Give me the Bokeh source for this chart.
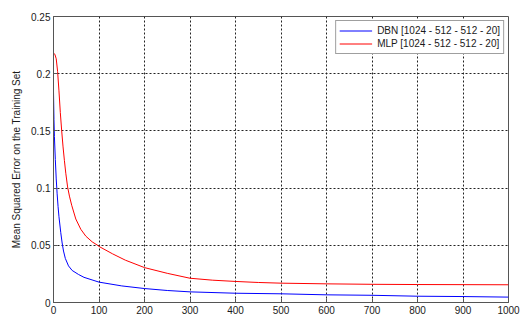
from bokeh.plotting import figure
from bokeh.models import Range1d, FixedTicker, Legend, LegendItem, Label
from bokeh.embed import file_html
from bokeh.resources import INLINE

# ---- data ----
mlp_epoch = [0, 3, 6, 9, 12, 15, 18, 21, 24, 27, 31, 35, 40, 49, 60, 71, 85, 97,
             100, 130, 158, 200, 250, 300, 350, 400, 450, 500, 600, 700, 800, 900, 1000]
mlp_mse = [0.218, 0.217, 0.213, 0.202, 0.185, 0.166, 0.150, 0.136, 0.124, 0.113,
           0.101, 0.093, 0.085, 0.073, 0.064, 0.058, 0.053, 0.050, 0.049, 0.0425,
           0.037, 0.0305, 0.0255, 0.0212, 0.0195, 0.0184, 0.0175, 0.0169, 0.0163,
           0.0159, 0.0157, 0.0156, 0.0155]

dbn_epoch = [0, 1, 2, 4, 6, 8, 10, 12, 16, 19, 22, 26, 33, 41, 55, 67, 100, 150,
             200, 250, 300, 400, 500, 600, 700, 800, 900, 1000]
dbn_mse = [0.184, 0.160, 0.145, 0.125, 0.108, 0.095, 0.084, 0.075, 0.061, 0.052,
           0.045, 0.0385, 0.032, 0.028, 0.0245, 0.022, 0.0178, 0.0145, 0.0122,
           0.0105, 0.0093, 0.0081, 0.0076, 0.0067, 0.0063, 0.0055, 0.0052, 0.0047]

x_ticks = [0, 100, 200, 300, 400, 500, 600, 700, 800, 900, 1000]
y_ticks = [0, 0.05, 0.1, 0.15, 0.2, 0.25]
y_tick_labels = ["0", "0.05", "0.1", "0.15", "0.2", "0.25"]

dbn_name = "DBN [1024 - 512 - 512 - 20]"
mlp_name = "MLP [1024 - 512 - 512 - 20]"
x_title = "epoch"
y_title = "Mean Squared Error on the Training Set"

FONT = "Liberation Sans"
TXT = "#1a1a1a"

p = figure(width=523, height=326, output_backend="svg", toolbar_location=None,
           x_range=Range1d(0, 1000), y_range=Range1d(0, 0.25),
           min_border_left=53, min_border_right=15, min_border_top=16,
           min_border_bottom=24)

p.background_fill_color = "white"
p.border_fill_color = "white"
p.outline_line_color = "#555555"
p.outline_line_width = 1

r_dbn = p.line(dbn_epoch, dbn_mse, line_color="#0000ff", line_width=1)
r_mlp = p.line(mlp_epoch, mlp_mse, line_color="#ff0000", line_width=1)

for ax in (p.xaxis[0], p.yaxis[0]):
    ax.axis_line_color = "#555555"
    ax.major_tick_in = 4
    ax.major_tick_out = 0
    ax.major_tick_line_color = "#555555"
    ax.minor_tick_line_color = None
    ax.major_label_text_font = FONT
    ax.major_label_text_font_size = "10px"
    ax.major_label_text_color = TXT
    ax.axis_label_text_font = FONT
    ax.axis_label_text_font_size = "10px"
    ax.axis_label_text_font_style = "normal"
    ax.axis_label_text_color = TXT

p.xaxis.ticker = FixedTicker(ticks=x_ticks)
p.xaxis.major_label_standoff = 3
p.yaxis.ticker = FixedTicker(ticks=y_ticks)
p.yaxis.major_label_overrides = {t: s for t, s in zip(y_ticks, y_tick_labels)}
p.yaxis.major_label_standoff = 3
p.yaxis.axis_label = y_title
p.yaxis.axis_label_standoff = 6

for g in (p.xgrid[0], p.ygrid[0]):
    g.grid_line_color = "#222222"
    g.grid_line_dash = "2 2"
    g.grid_line_width = 1

p.add_layout(Label(x=500, y=-0.0166, text=x_title, text_align="center",
                   text_baseline="alphabetic", text_font=FONT,
                   text_font_size="10px", text_color=TXT))

legend = Legend(items=[LegendItem(label=dbn_name, renderers=[r_dbn]),
                       LegendItem(label=mlp_name, renderers=[r_mlp])],
                location="top_right", margin=4, padding=3, spacing=0,
                glyph_width=33, glyph_height=13, label_height=13,
                label_standoff=5, label_text_font=FONT,
                label_text_font_size="10px", label_text_color=TXT,
                border_line_color="#404040", border_line_width=1,
                background_fill_color="white", background_fill_alpha=1)
p.add_layout(legend)

open("out.html", "w").write(file_html(p, INLINE))
